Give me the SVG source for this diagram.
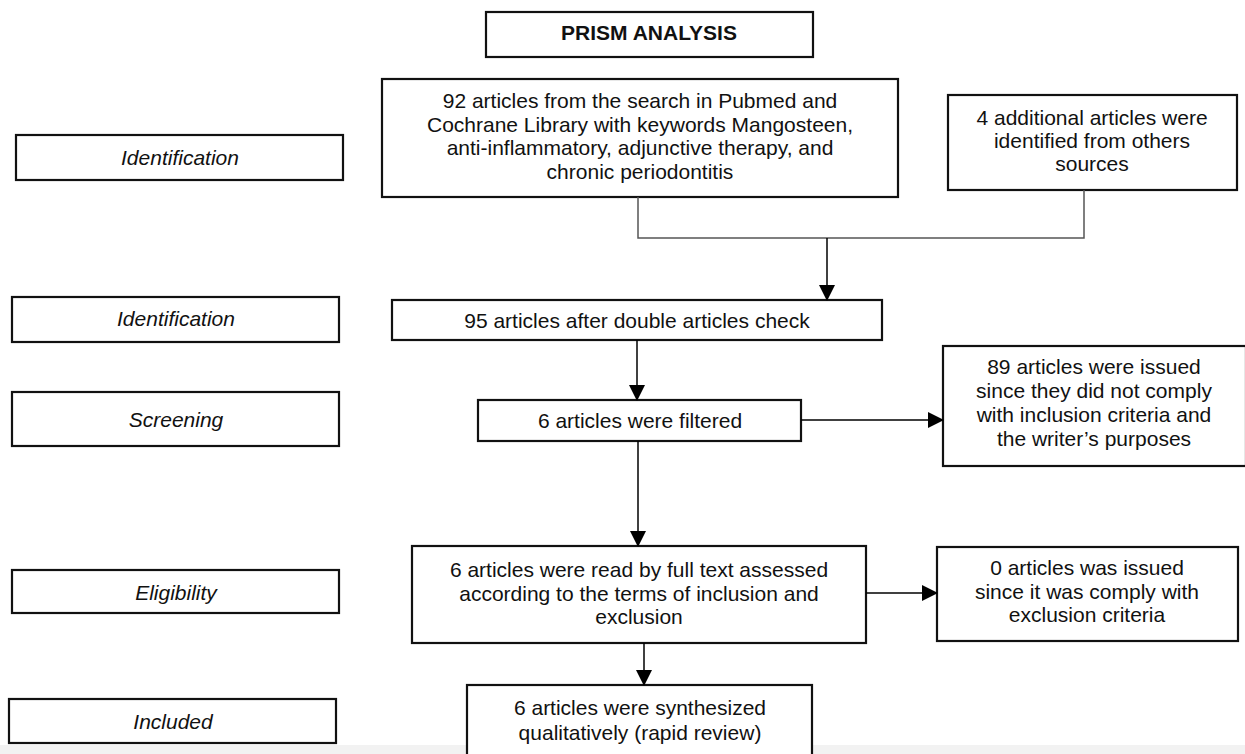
<svg xmlns="http://www.w3.org/2000/svg" width="1245" height="754" viewBox="0 0 1245 754">
<defs>
<marker id="ah" markerWidth="16" markerHeight="16" refX="15" refY="8" orient="auto" markerUnits="userSpaceOnUse">
<path d="M0,0 L16,8 L0,16 Z" fill="#000"/>
</marker>
<style>
.box{fill:#fff;stroke:#111;stroke-width:2.2}
.t{font-family:"Liberation Sans",Arial,sans-serif;font-size:21px;fill:#111;text-anchor:middle}
.b{font-weight:bold}
.i{font-style:italic}
.c{fill:none;stroke:#000;stroke-width:1.5}
.j{fill:none;stroke:#555;stroke-width:1.5}
</style>
</defs>
<rect x="0" y="0" width="1245" height="754" fill="#fff"/>
<rect x="0" y="745" width="1245" height="9" fill="#f2f2f2"/>

<g id="title">
<rect class="box" x="486" y="12" width="327" height="45"/>
<text class="t b" x="649" y="40">PRISM ANALYSIS</text>
</g>

<g id="label-identification-1">
<rect class="box" x="16" y="135" width="327" height="45"/>
<text class="t i" x="180" y="164.5">Identification</text>
</g>
<g id="label-identification-2">
<rect class="box" x="12" y="297" width="327" height="45"/>
<text class="t i" x="176" y="325.5">Identification</text>
</g>
<g id="label-screening">
<rect class="box" x="12" y="392" width="327" height="54"/>
<text class="t i" x="176" y="426.5">Screening</text>
</g>
<g id="label-eligibility">
<rect class="box" x="12" y="570" width="327" height="43"/>
<text class="t i" x="176" y="599.5">Eligibility</text>
</g>
<g id="label-included">
<rect class="box" x="9" y="699" width="327" height="44"/>
<text class="t i" x="173" y="728.5">Included</text>
</g>

<g id="n-search">
<rect class="box" x="382" y="79" width="516" height="118"/>
<text class="t" x="640" y="108">92 articles from the search in Pubmed and</text>
<text class="t" x="640" y="131.5">Cochrane Library with keywords Mangosteen,</text>
<text class="t" x="640" y="155">anti-inflammatory, adjunctive therapy, and</text>
<text class="t" x="640" y="178.5">chronic periodontitis</text>
</g>
<g id="n-additional">
<rect class="box" x="948" y="95" width="289" height="95"/>
<text class="t" x="1092" y="124.5">4 additional articles were</text>
<text class="t" x="1092" y="147.5">identified from others</text>
<text class="t" x="1092" y="170.5">sources</text>
</g>
<g id="n-dedup">
<rect class="box" x="392" y="300" width="490" height="40"/>
<text class="t" x="637" y="328">95 articles after double articles check</text>
</g>
<g id="n-filtered">
<rect class="box" x="478" y="400" width="323" height="41"/>
<text class="t" x="640" y="428">6 articles were filtered</text>
</g>
<g id="n-excluded-89">
<rect class="box" x="943" y="346" width="303" height="120"/>
<text class="t" x="1094" y="374">89 articles were issued</text>
<text class="t" x="1094" y="398">since they did not comply</text>
<text class="t" x="1094" y="422">with inclusion criteria and</text>
<text class="t" x="1094" y="445.5">the writer’s purposes</text>
</g>
<g id="n-fulltext">
<rect class="box" x="412" y="546" width="454" height="97"/>
<text class="t" x="639" y="577">6 articles were read by full text assessed</text>
<text class="t" x="639" y="600.5">according to the terms of inclusion and</text>
<text class="t" x="639" y="624">exclusion</text>
</g>
<g id="n-excluded-0">
<rect class="box" x="937" y="547" width="301" height="94"/>
<text class="t" x="1087" y="575">0 articles was issued</text>
<text class="t" x="1087" y="599">since it was comply with</text>
<text class="t" x="1087" y="622">exclusion criteria</text>
</g>
<g id="n-included">
<rect class="box" x="467" y="685" width="345" height="80"/>
<text class="t" x="640" y="715">6 articles were synthesized</text>
<text class="t" x="640" y="740">qualitatively (rapid review)</text>
</g>

<g id="connectors">
<polyline class="j" points="638,197 638,238 1084,238 1084,190"/>
<line class="c" x1="827" y1="238" x2="827" y2="300" marker-end="url(#ah)"/>
<line class="c" x1="637" y1="340" x2="637" y2="400" marker-end="url(#ah)"/>
<line class="c" x1="801" y1="420" x2="943" y2="420" marker-end="url(#ah)"/>
<line class="c" x1="638" y1="441" x2="638" y2="546" marker-end="url(#ah)"/>
<line class="c" x1="866" y1="593" x2="937" y2="593" marker-end="url(#ah)"/>
<line class="c" x1="644" y1="643" x2="644" y2="685" marker-end="url(#ah)"/>
</g>
</svg>
